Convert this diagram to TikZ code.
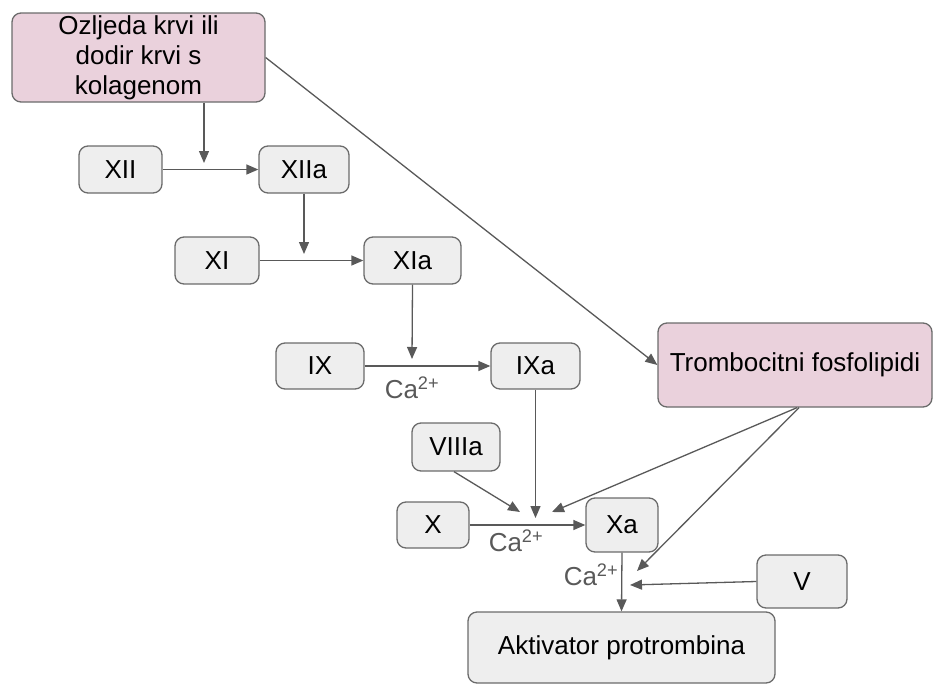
\documentclass[tikz,border=0pt]{standalone}
\usepackage{fontspec}
\setmainfont{Liberation Sans}
\usetikzlibrary{arrows.meta}
\definecolor{boxfill}{HTML}{EEEEEE}
\definecolor{pinkfill}{HTML}{EAD1DC}
\definecolor{boxline}{HTML}{6B6B6B}
\definecolor{arrowc}{HTML}{595959}
\begin{document}
\begin{tikzpicture}[x=1pt,y=-1pt,
  box/.style={draw=boxline, fill=boxfill, rounded corners=9pt, line width=1.3pt,
    inner sep=0pt, font=\fontsize{26}{30}\selectfont, text=black},
  pinkbox/.style={box, fill=pinkfill},
  arr/.style={draw=arrowc, line width=1.3pt, -{Triangle[length=12pt,width=10pt]}},
  calab/.style={font=\fontsize{26}{30}\selectfont, text=arrowc, inner sep=0pt}]
\useasboundingbox (0,0) rectangle (935,686);
% nodes
\node[pinkbox, minimum width=253pt, minimum height=89pt, align=center] (oz) at (138.5,57.5) {Ozljeda krvi ili\\dodir krvi s\\kolagenom};
\node[box, minimum width=83pt, minimum height=47pt] (xii) at (120.5,169.5) {XII};
\node[box, minimum width=90pt, minimum height=47pt] (xiia) at (304,169.5) {XIIa};
\node[box, minimum width=84pt, minimum height=47pt] (xi) at (217,260.5) {XI};
\node[box, minimum width=97pt, minimum height=47pt] (xia) at (412.5,260.5) {XIa};
\node[box, minimum width=88pt, minimum height=46pt] (ix) at (320,366) {IX};
\node[box, minimum width=89pt, minimum height=46pt] (ixa) at (535.5,366) {IXa};
\node[pinkbox, minimum width=274pt, minimum height=84pt] (tf) at (795,365) {Trombocitni fosfolipidi};
\node[box, minimum width=88pt, minimum height=48pt] (viiia) at (456,447) {VIIIa};
\node[box, minimum width=72pt, minimum height=46pt] (x) at (433,525) {X};
\node[box, minimum width=72pt, minimum height=54pt] (xa) at (622,525) {Xa};
\node[box, minimum width=90pt, minimum height=53pt] (v) at (802,581.5) {V};
\node[box, minimum width=307pt, minimum height=71pt] (ak) at (621.5,647.5) {Aktivator protrombina};
% labels
\node[calab] (ca1) at (412,388) {Ca\textsuperscript{2+}};
\node[calab] (ca2) at (516,541) {Ca\textsuperscript{2+}};
\node[calab] (ca3) at (591,575) {Ca\textsuperscript{2+}};
% free ends
\coordinate (c1) at (204,163);
\coordinate (c2) at (304,254);
\coordinate (c3) at (412,359);
\coordinate (c4) at (535.5,518);
\coordinate (c5) at (520,512);
\coordinate (c6) at (552,512);
\coordinate (c7) at (630,585);
\coordinate (c8) at (637,571);
% connectors
\draw[arr] (oz.south -| c1) -- (c1);
\draw[arr] (xii.east) -- (xiia.west);
\draw[arr] (xiia.south) -- (c2);
\draw[arr] (xi.east) -- (xia.west);
\draw[arr] (xia.south) -- (c3);
\draw[arr] (ix.east) -- (ixa.west);
\draw[arr] (ixa.south) -- (c4);
\draw[arr] ([xshift=-2pt]viiia.south) -- (c5);
\draw[arr] ([xshift=2pt]tf.south) -- (c6);
\draw[arr] ([xshift=4pt]tf.south) -- (c8);
\draw[arr] (x.east) -- (xa.west);
\draw[arr] (xa.south) -- (ak.north);
\draw[arr] (v.west) -- (c7);
\draw[arr] (oz.east) -- (tf.west);
\end{tikzpicture}
\end{document}
